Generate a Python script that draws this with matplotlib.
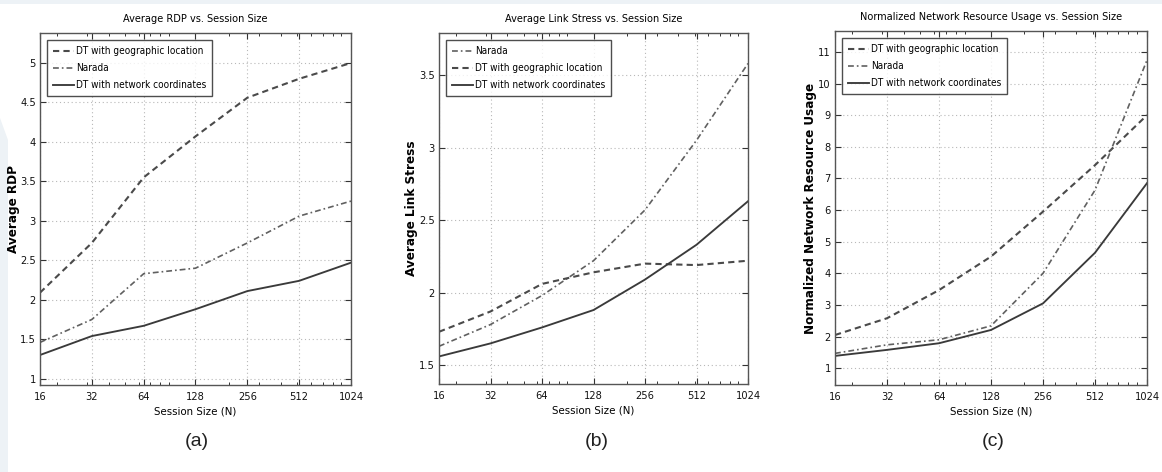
import matplotlib
matplotlib.use("Agg")
import matplotlib.pyplot as plt
from matplotlib.patches import Polygon, Rectangle
from matplotlib.ticker import FixedLocator, NullFormatter, LogLocator

plt.rcParams['font.family'] = ['DejaVu Sans']
plt.rcParams['font.stretch'] = 'condensed'

# Session sizes (x axis, log2 spaced)
sizes = [16, 32, 64, 128, 256, 512, 1024]
size_labels = ['16', '32', '64', '128', '256', '512', '1024']

# (a) Average RDP
rdp_geo = [2.09, 2.72, 3.55, 4.07, 4.56, 4.80, 5.00]
rdp_narada = [1.46, 1.75, 2.33, 2.40, 2.72, 3.06, 3.25]
rdp_netcoord = [1.30, 1.54, 1.67, 1.88, 2.11, 2.24, 2.47]

# (b) Average link stress
stress_narada = [1.63, 1.78, 1.98, 2.22, 2.57, 3.05, 3.58]
stress_geo = [1.73, 1.87, 2.06, 2.14, 2.20, 2.19, 2.22]
stress_netcoord = [1.56, 1.65, 1.76, 1.88, 2.09, 2.33, 2.63]

# (c) Normalized network resource usage
nru_geo = [2.05, 2.58, 3.47, 4.53, 5.95, 7.42, 9.00]
nru_narada = [1.47, 1.74, 1.90, 2.34, 4.00, 6.63, 10.74]
nru_netcoord = [1.39, 1.58, 1.79, 2.21, 3.05, 4.65, 6.85]

LBL_GEO = 'DT with geographic location'
LBL_NAR = 'Narada'
LBL_NET = 'DT with network coordinates'

DASH = dict(color='#4a4a4a', lw=1.5, dashes=(3.0, 2.0))
DASHDOT = dict(color='#606060', lw=1.2, dashes=(3.5, 1.8, 1.0, 1.8))
SOLID = dict(color='#3a3a3a', lw=1.35, linestyle='-')

W, H = 1162, 472
fig = plt.figure(figsize=(W / 100, H / 100), dpi=100)

# light page decoration along top and left edges
fig.patches.append(Rectangle((0, 1 - 4 / H), 1, 4 / H, transform=fig.transFigure,
                             facecolor='#edf2f6', edgecolor='none', zorder=-5))
fig.patches.append(Polygon([(0, 1 - 118 / H), (8 / W, 1 - 140 / H), (8 / W, 0), (0, 0)],
                           closed=True, transform=fig.transFigure,
                           facecolor='#edf2f6', edgecolor='none', zorder=-5))


def px_axes(left, top, right, bottom):
    return fig.add_axes([left / W, 1 - bottom / H, (right - left) / W, (bottom - top) / H])


def style_axes(ax, ylim, yticks, ylabels, title, ylabel, ylabel_x):
    ax.set_xscale('log', base=2)
    ax.set_xlim(16, 1024)
    ax.xaxis.set_major_locator(FixedLocator(sizes))
    ax.set_xticklabels(size_labels)
    ax.xaxis.set_minor_locator(LogLocator(base=10, subs=range(2, 10)))
    ax.xaxis.set_minor_formatter(NullFormatter())
    ax.set_ylim(*ylim)
    ax.set_yticks(yticks)
    ax.set_yticklabels(ylabels)
    ax.tick_params(which='both', direction='in', top=True, right=True,
                   labelsize=7.9, color='#333333', labelcolor='#111111')
    ax.tick_params(axis='x', pad=5)
    ax.tick_params(axis='y', pad=3)
    ax.tick_params(which='major', length=4, width=0.8)
    ax.tick_params(which='minor', length=2.5, width=0.7)
    ax.grid(True, which='major', linestyle=(0, (1, 2.5)), color='#b8b8b8', lw=0.8)
    for s in ax.spines.values():
        s.set_color('#555555')
        s.set_linewidth(1.0)
    ax.set_title(title, fontsize=7.8, pad=8)
    ax.set_xlabel('Session Size (N)', fontsize=8.2, labelpad=3)
    ax.set_ylabel(ylabel, fontsize=9.6, fontweight='bold')
    ax.yaxis.set_label_coords(ylabel_x, 0.5)


def add_legend(ax, order):
    leg = ax.legend(handles=order, loc='upper left', prop=dict(size=7.2, stretch='condensed'),
                    frameon=True, fancybox=False, edgecolor='#222222', borderpad=0.6,
                    handlelength=2.1, handletextpad=0.2, labelspacing=0.7,
                    borderaxespad=0.72)
    leg.get_frame().set_linewidth(1.0)


# (a)
ax1 = px_axes(40, 33, 351, 385)
g, = ax1.plot(sizes, rdp_geo, label=LBL_GEO, **DASH)
n, = ax1.plot(sizes, rdp_narada, label=LBL_NAR, **DASHDOT)
c, = ax1.plot(sizes, rdp_netcoord, label=LBL_NET, **SOLID)
style_axes(ax1, (0.92, 5.38), [1, 1.5, 2, 2.5, 3, 3.5, 4, 4.5, 5],
           ['1', '1.5', '2', '2.5', '3', '3.5', '4', '4.5', '5'],
           'Average RDP vs. Session Size', 'Average RDP', -0.064)
add_legend(ax1, [g, n, c])

# (b)
ax2 = px_axes(439, 33, 748, 384)
n, = ax2.plot(sizes, stress_narada, label=LBL_NAR, **DASHDOT)
g, = ax2.plot(sizes, stress_geo, label=LBL_GEO, **DASH)
c, = ax2.plot(sizes, stress_netcoord, label=LBL_NET, **SOLID)
style_axes(ax2, (1.37, 3.79), [1.5, 2, 2.5, 3, 3.5],
           ['1.5', '2', '2.5', '3', '3.5'],
           'Average Link Stress vs. Session Size', 'Average Link Stress', -0.068)
add_legend(ax2, [n, g, c])

# (c)
ax3 = px_axes(835, 31, 1147, 385)
g, = ax3.plot(sizes, nru_geo, label=LBL_GEO, **DASH)
n, = ax3.plot(sizes, nru_narada, label=LBL_NAR, **DASHDOT)
c, = ax3.plot(sizes, nru_netcoord, label=LBL_NET, **SOLID)
style_axes(ax3, (0.47, 11.66), list(range(1, 12)), [str(v) for v in range(1, 12)],
           'Normalized Network Resource Usage vs. Session Size',
           'Normalized Network Resource Usage', -0.058)
add_legend(ax3, [g, n, c])

# panel captions
for x, t in [(197, '(a)'), (597, '(b)'), (993, '(c)')]:
    fig.text(x / W, 1 - 441 / H, t, ha='center', va='center', fontsize=14,
             family=['Liberation Sans', 'DejaVu Sans'], stretch='normal',
             color='#222222')

fig.savefig('out.png', dpi=100)
